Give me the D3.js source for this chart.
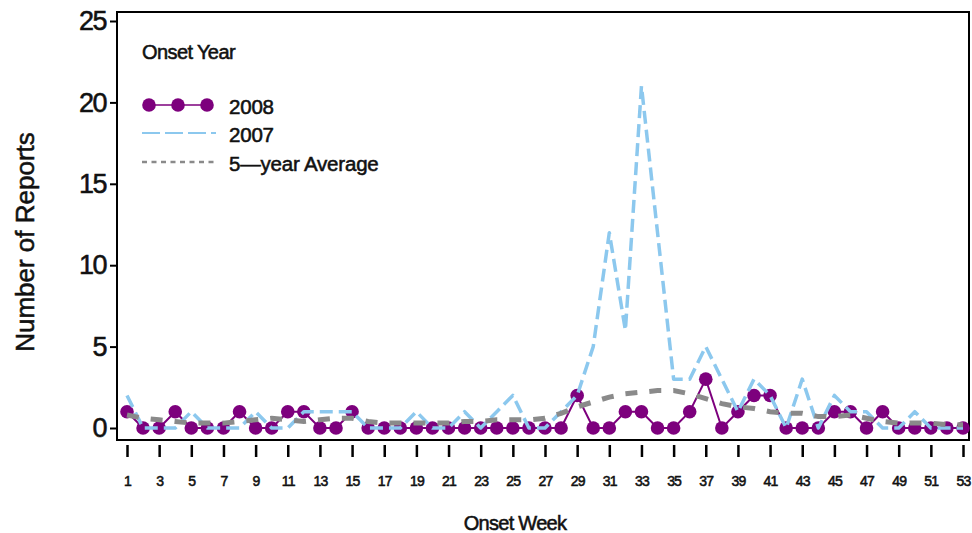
<!DOCTYPE html>
<html>
<head>
<meta charset="utf-8">
<script src="https://cdn.jsdelivr.net/npm/d3@7"></script>
<style>
  html, body { margin: 0; padding: 0; background: #fff; }
  svg { display: block; font-family: "Liberation Sans", Arial, Helvetica, sans-serif; }
  svg text { fill: #111; stroke: #111; stroke-width: 0.55px; paint-order: stroke; }
</style>
</head>
<body>
<svg id="chart" width="972" height="533"></svg>
<script>
// Weekly reports by onset week
const weeks = d3.range(1, 54);
const reports2008 = [1,0,0,1,0,0,0,1,0,0,1,1,0,0,1,0,0,0,0,0,0,0,0,0,0,0,0,0,2,0,
                     0,1,1,0,0,1,3,0,1,2,2,0,0,0,1,1,0,1,0,0,0,0,0];
const reports2007 = [2,0,0,0,1,0,0,0,1,0,0,1,1,1,1,0,0,0,1,0,0,1,0,1,2,0,0,1,2,5,
                     12,6,21,12,3,3,5,3,1,3,2,0,3,0,2,1,1,0,0,1,0,0,0];
const fiveYearAvg = [0.8,0.6,0.5,0.4,0.3,0.3,0.3,0.4,0.5,0.6,0.5,0.4,0.5,0.6,0.6,0.4,0.3,0.3,0.3,0.3,
                     0.3,0.4,0.4,0.5,0.5,0.5,0.6,0.9,1.3,1.6,1.9,2.1,2.2,2.3,2.3,2.1,1.8,1.5,1.3,1.2,
                     1.0,0.9,0.9,0.7,0.7,0.8,0.6,0.4,0.3,0.3,0.3,0.2,0.2];
const yTicks = [0, 5, 10, 15, 20, 25];
const xTicks = d3.range(1, 54, 2);
const legendLabels = ["2008", "2007", "5\u2014year Average"];

const purple = "#7d007d", blue = "#8cc8ee", grey = "#8a8a8a";

const svg = d3.select("#chart");
const frame = { left: 117, right: 969, top: 12, bottom: 440 };

const x = d3.scaleLinear().domain([1, 53]).range([127, 963]);
const y = d3.scaleLinear().domain([0, 25]).range([428, 21]);

// plot frame
svg.append("rect")
  .attr("x", frame.left).attr("y", frame.top)
  .attr("width", frame.right - frame.left).attr("height", frame.bottom - frame.top)
  .attr("fill", "none").attr("stroke", "#000").attr("stroke-width", 2);

// y axis
const yAxis = svg.append("g").attr("transform", `translate(${frame.left},0)`)
  .call(d3.axisLeft(y).tickValues(yTicks).tickSize(7).tickPadding(4).tickFormat(d3.format("d")));
yAxis.select(".domain").remove();
yAxis.selectAll(".tick line").attr("stroke", "#000").attr("stroke-width", 2);
yAxis.selectAll(".tick text")
  .attr("font-size", 27).attr("letter-spacing", -1.5)
  .attr("font-family", "'Liberation Sans', Arial, sans-serif");

// x axis (ticks below the frame, with a small gap)
const xAxis = svg.append("g").attr("transform", `translate(0,${frame.bottom + 5})`)
  .call(d3.axisBottom(x).tickValues(xTicks).tickSize(12).tickPadding(19).tickFormat(d3.format("d")));
xAxis.select(".domain").remove();
xAxis.selectAll(".tick line").attr("stroke", "#000").attr("stroke-width", 2.5);
xAxis.selectAll(".tick text")
  .attr("font-size", 14).attr("letter-spacing", -0.8)
  .attr("font-family", "'Liberation Sans', Arial, sans-serif");

// axis titles
svg.append("text")
  .attr("transform", "translate(34,242) rotate(-90)")
  .attr("text-anchor", "middle").attr("font-size", 26)
  .text("Number of Reports");
svg.append("text")
  .attr("x", 515).attr("y", 530)
  .attr("text-anchor", "middle").attr("font-size", 20)
  .attr("letter-spacing", -0.7)
  .text("Onset Week");

const line = (vals) => d3.line().x((d, i) => x(weeks[i])).y(d => y(d))(vals);

// 2008: solid line with markers
svg.append("path").attr("d", line(reports2008))
  .attr("fill", "none").attr("stroke", purple).attr("stroke-width", 2);
svg.append("g").selectAll("circle").data(reports2008).join("circle")
  .attr("cx", (d, i) => x(weeks[i])).attr("cy", d => y(d)).attr("r", 6.8)
  .attr("fill", purple);

// 2007: long dashes
svg.append("path").attr("d", line(reports2007))
  .attr("fill", "none").attr("stroke", blue).attr("stroke-width", 3.5)
  .attr("stroke-dasharray", "13,6").attr("stroke-linejoin", "round");

// 5-year average: thick short dashes
svg.append("path").attr("d", line(fiveYearAvg))
  .attr("fill", "none").attr("stroke", grey).attr("stroke-width", 5)
  .attr("stroke-dasharray", "12,12");

// legend
const lg = svg.append("g");
lg.append("text").attr("x", 142).attr("y", 59).attr("font-size", 20)
  .attr("letter-spacing", -0.6).text("Onset Year");

const lx0 = 142, lx1 = 216;
const legendY = [105, 133, 162];
lg.append("line").attr("x1", 149).attr("x2", 207).attr("y1", legendY[0]).attr("y2", legendY[0])
  .attr("stroke", purple).attr("stroke-width", 1.5);
lg.selectAll("circle").data([149, 178, 207]).join("circle")
  .attr("cx", d => d).attr("cy", legendY[0]).attr("r", 6.8).attr("fill", purple);
lg.append("line").attr("x1", lx0).attr("x2", lx1).attr("y1", legendY[1]).attr("y2", legendY[1])
  .attr("stroke", blue).attr("stroke-width", 2).attr("stroke-dasharray", "18,5");
lg.append("line").attr("x1", lx0).attr("x2", lx1).attr("y1", legendY[2]).attr("y2", legendY[2])
  .attr("stroke", grey).attr("stroke-width", 2.5).attr("stroke-dasharray", "5,4.5");
lg.selectAll("text.item").data(legendLabels).join("text").attr("class", "item")
  .attr("x", 229).attr("y", (d, i) => legendY[i] + 9)
  .attr("font-size", 20.5).attr("letter-spacing", -0.2)
  .text(d => d);
</script>
</body>
</html>
